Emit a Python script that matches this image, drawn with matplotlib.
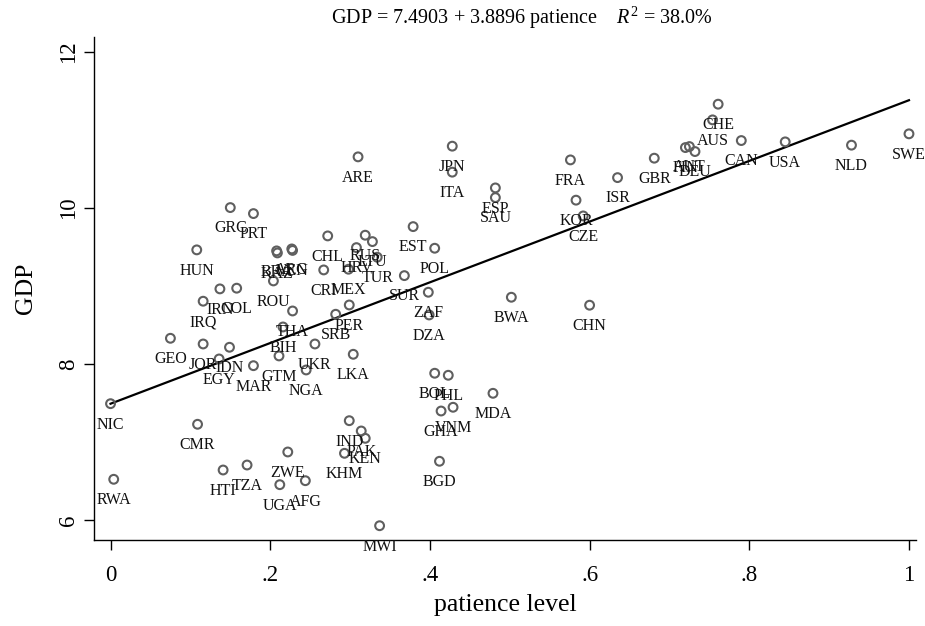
import numpy as np
import matplotlib
matplotlib.use("Agg")
import matplotlib.pyplot as plt

# country codes, patience level and log GDP per capita
countries = ["NIC", "RWA", "GEO", "HUN", "GRC", "PRT", "IRN", "COL", "IRQ", "ROU",
             "THA", "BIH", "GTM", "JOR", "IDN", "EGY", "MAR", "NGA", "UKR", "LKA",
             "CMR", "ZWE", "HTI", "TZA", "UGA", "AFG", "BOL", "PHL", "MDA", "GHA",
             "VNM", "IND", "PAK", "KEN", "KHM", "BGD", "MWI", "ARE", "ITA", "JPN",
             "EST", "CHL", "RUS", "LTU", "HRV", "TUR", "POL", "CRI", "MEX", "SUR",
             "ZAF", "PER", "SRB", "DZA", "ESP", "SAU", "FRA", "ISR", "KOR", "CZE",
             "BWA", "CHN", "GBR", "CHE", "AUS", "FIN", "AUT", "DEU", "CAN", "USA",
             "NLD", "SWE", "BRA", "KAZ", "ARG", "VEN"]
patience = [0.000, 0.004, 0.075, 0.108, 0.150, 0.179, 0.137, 0.158, 0.116, 0.204,
            0.228, 0.216, 0.211, 0.116, 0.149, 0.136, 0.179, 0.245, 0.256, 0.304,
            0.109, 0.222, 0.141, 0.171, 0.212, 0.244, 0.406, 0.423, 0.479, 0.414,
            0.429, 0.299, 0.314, 0.319, 0.293, 0.412, 0.337, 0.310, 0.428, 0.428,
            0.379, 0.272, 0.319, 0.328, 0.308, 0.334, 0.406, 0.267, 0.298, 0.368,
            0.398, 0.299, 0.282, 0.399, 0.482, 0.482, 0.576, 0.635, 0.583, 0.592,
            0.502, 0.600, 0.681, 0.761, 0.754, 0.720, 0.725, 0.732, 0.790, 0.845,
            0.928, 1.000, 0.208, 0.209, 0.227, 0.228]
gdp = [7.491, 6.522, 8.329, 9.462, 10.004, 9.927, 8.962, 8.971, 8.804, 9.064,
       8.679, 8.474, 8.103, 8.256, 8.214, 8.064, 7.978, 7.923, 8.256, 8.124,
       7.227, 6.872, 6.641, 6.705, 6.453, 6.504, 7.881, 7.855, 7.624, 7.397,
       7.445, 7.273, 7.141, 7.047, 6.855, 6.753, 5.927, 10.654, 10.458, 10.791,
       9.760, 9.641, 9.650, 9.568, 9.491, 9.368, 9.483, 9.205, 9.214, 9.132,
       8.919, 8.756, 8.637, 8.628, 10.256, 10.132, 10.615, 10.388, 10.099, 9.897,
       8.855, 8.753, 10.637, 11.329, 11.128, 10.773, 10.786, 10.722, 10.863, 10.846,
       10.804, 10.949, 9.449, 9.423, 9.474, 9.455]

# fitted line from the title
intercept = 7.4903
slope = 3.8896

plt.rcParams["font.family"] = ["Liberation Serif", "DejaVu Serif"]
plt.rcParams["mathtext.fontset"] = "custom"
plt.rcParams["mathtext.rm"] = "Liberation Serif"
plt.rcParams["mathtext.it"] = "Liberation Serif:italic"

fig = plt.figure(figsize=(9.25, 6.26), dpi=100)
ax = fig.add_axes([94 / 925, 1 - 540 / 626, 822 / 925, 503 / 626])

# scatter with hollow grey circles
ax.scatter(patience, gdp, s=40, facecolors="none", edgecolors="#5f5f5f",
           linewidths=1.5, zorder=3)

# country labels below each marker
for name, px, gy in zip(countries, patience, gdp):
    ax.annotate(name, (px, gy), xytext=(0, -15), textcoords="offset points",
                ha="center", va="center", fontsize=11.5, color="#111111", zorder=4)

# regression line
xs = np.array([min(patience), max(patience)])
ax.plot(xs, intercept + slope * xs, color="black", linewidth=1.6, zorder=2)

ax.set_xlim(-0.0207, 1.0088)
ax.set_ylim(5.744, 12.19)
ax.set_xticks([0, 0.2, 0.4, 0.6, 0.8, 1])
ax.set_xticklabels(["0", ".2", ".4", ".6", ".8", "1"])
ax.set_yticks([6, 8, 10, 12])
ax.set_yticklabels(["6", "8", "10", "12"], rotation=90, va="center")
ax.tick_params(axis="both", direction="out", length=7, width=1, labelsize=16.5,
               color="black")
ax.tick_params(axis="x", pad=11)
ax.tick_params(axis="y", pad=4)

for side in ["top", "right"]:
    ax.spines[side].set_visible(False)
for side in ["left", "bottom"]:
    ax.spines[side].set_linewidth(1)

ax.set_xlabel("patience level", fontsize=18.5)
ax.set_ylabel("GDP", fontsize=18.5)
ax.xaxis.set_label_coords(0.5, -0.108)
ax.yaxis.set_label_coords(-0.069, 0.5)

fig.text(522 / 925, 1 - 18 / 626,
         r"GDP = 7.4903 + 3.8896 patience    $R^2$ = 38.0%",
         ha="center", va="center", fontsize=14.5)

fig.savefig("out.png", dpi=100)
